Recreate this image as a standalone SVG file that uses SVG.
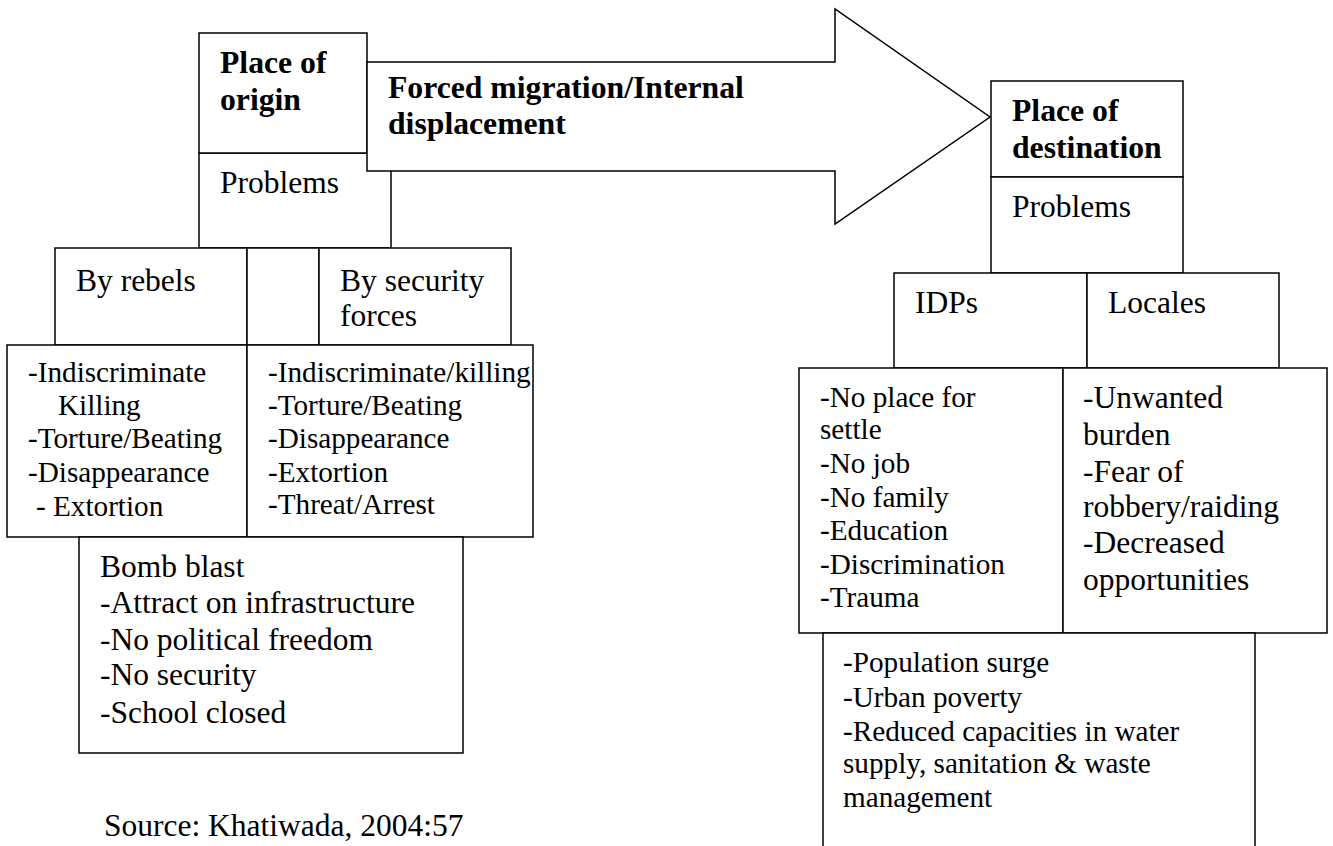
<svg xmlns="http://www.w3.org/2000/svg" width="1333" height="846" viewBox="0 0 1333 846">
<style>
.b{fill:#fff;stroke:#000;stroke-width:1.5}
.t{font-family:"Liberation Serif","Times New Roman",serif;font-size:31.5px;fill:#000}
.s{font-family:"Liberation Serif","Times New Roman",serif;font-size:29.2px;fill:#000}
.h{font-family:"Liberation Serif","Times New Roman",serif;font-size:31.7px;font-weight:bold;fill:#000}
</style>
<rect width="1333" height="846" fill="#fff"/>
<g id="origin-problems">
<rect class="b" x="199" y="153" width="192" height="95"/>
<text class="t" x="220" y="193">Problems</text>
</g>
<g id="origin">
<rect class="b" x="199" y="33" width="168" height="120"/>
<text class="h" x="220" y="73">Place of</text>
<text class="h" x="220" y="110">origin</text>
</g>
<g id="connectors">
<polygon class="b" points="367,62 835,62 835,9 990,117 835,224 835,171 367,171"/>
<text class="h" x="388" y="98">Forced migration/Internal</text>
<text class="h" x="388" y="134">displacement</text>
</g>
<g id="by-rebels">
<rect class="b" x="55" y="248" width="192" height="97"/>
<text class="t" x="76" y="291">By rebels</text>
</g>
<g id="gap-box">
<rect class="b" x="247" y="248" width="72" height="97"/>
</g>
<g id="by-security">
<rect class="b" x="319" y="248" width="192" height="97"/>
<text class="t" x="340" y="291">By security</text>
<text class="t" x="340" y="326">forces</text>
</g>
<g id="rebels-list">
<rect class="b" x="7" y="345" width="240" height="192"/>
<text class="s" x="28" y="382">-Indiscriminate</text>
<text class="s" x="58" y="415">Killing</text>
<text class="s" x="28" y="448">-Torture/Beating</text>
<text class="s" x="28" y="482">-Disappearance</text>
<text class="s" x="36" y="516">- Extortion</text>
</g>
<g id="security-list">
<rect class="b" x="247" y="345" width="286" height="192"/>
<text class="s" x="268" y="382">-Indiscriminate/killing</text>
<text class="s" x="268" y="415">-Torture/Beating</text>
<text class="s" x="268" y="448">-Disappearance</text>
<text class="s" x="268" y="482">-Extortion</text>
<text class="s" x="268" y="514">-Threat/Arrest</text>
</g>
<g id="bomb-blast">
<rect class="b" x="79" y="537" width="384" height="216"/>
<text class="t" x="100" y="577">Bomb blast</text>
<text class="t" x="100" y="613">-Attract on infrastructure</text>
<text class="t" x="100" y="650">-No political freedom</text>
<text class="t" x="100" y="685">-No security</text>
<text class="t" x="100" y="723">-School closed</text>
</g>
<g id="destination">
<rect class="b" x="991" y="81" width="192" height="96"/>
<text class="h" x="1012" y="121">Place of</text>
<text class="h" x="1012" y="158">destination</text>
</g>
<g id="destination-problems">
<rect class="b" x="991" y="177" width="192" height="96"/>
<text class="t" x="1012" y="217">Problems</text>
</g>
<g id="idps">
<rect class="b" x="894" y="273" width="193" height="95"/>
<text class="t" x="915" y="313">IDPs</text>
</g>
<g id="locales">
<rect class="b" x="1087" y="273" width="192" height="95"/>
<text class="t" x="1108" y="313">Locales</text>
</g>
<g id="idps-list">
<rect class="b" x="799" y="368" width="264" height="265"/>
<text class="s" x="820" y="407">-No place for</text>
<text class="s" x="820" y="439">settle</text>
<text class="s" x="820" y="473">-No job</text>
<text class="s" x="820" y="507">-No family</text>
<text class="s" x="820" y="540">-Education</text>
<text class="s" x="820" y="574">-Discrimination</text>
<text class="s" x="820" y="607">-Trauma</text>
</g>
<g id="locales-list">
<rect class="b" x="1063" y="368" width="264" height="265"/>
<text class="t" x="1083" y="408">-Unwanted</text>
<text class="t" x="1083" y="445">burden</text>
<text class="t" x="1083" y="482">-Fear of</text>
<text class="t" x="1083" y="517">robbery/raiding</text>
<text class="t" x="1083" y="553">-Decreased</text>
<text class="t" x="1083" y="590">opportunities</text>
</g>
<g id="urban-problems">
<rect class="b" x="823" y="633" width="432" height="240"/>
<text class="s" x="843" y="672">-Population surge</text>
<text class="s" x="843" y="707">-Urban poverty</text>
<text class="s" x="843" y="741">-Reduced capacities in water</text>
<text class="s" x="843" y="773">supply, sanitation &amp; waste</text>
<text class="s" x="843" y="807">management</text>
</g>
<g id="source">
<text class="t" x="104" y="836">Source: Khatiwada, 2004:57</text>
</g>
</svg>
